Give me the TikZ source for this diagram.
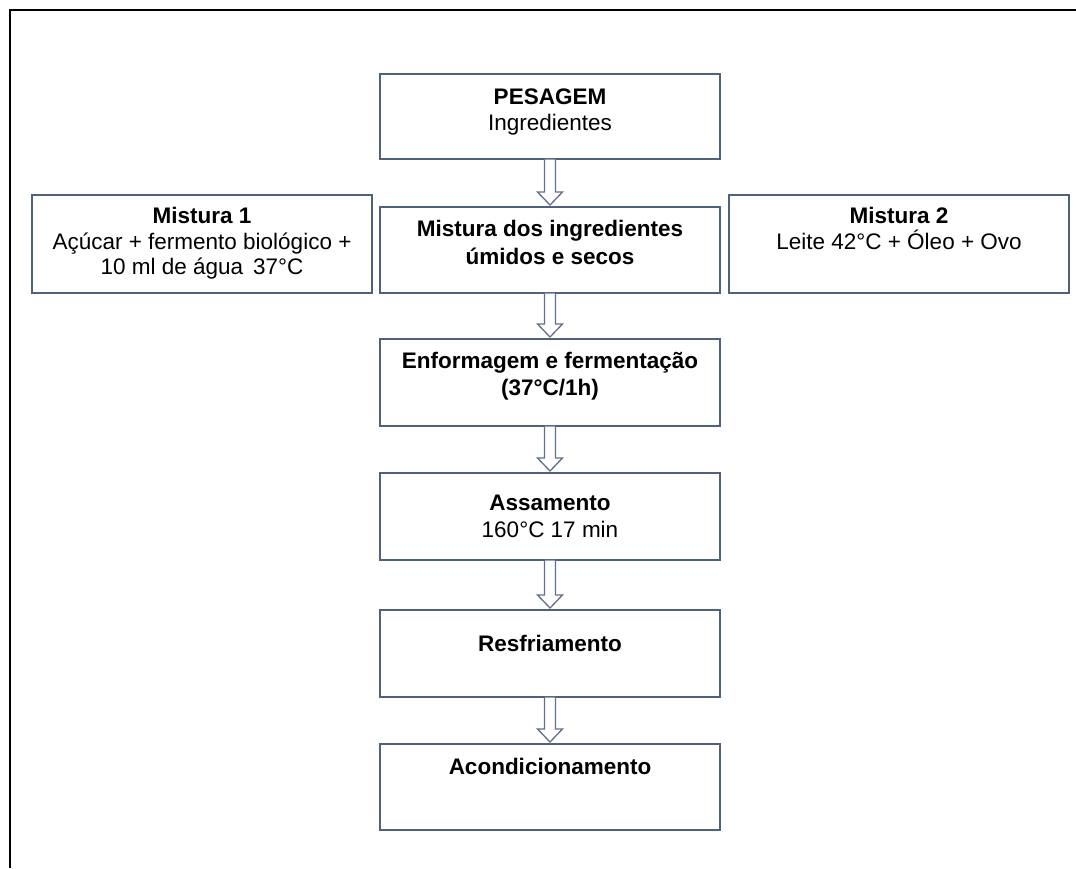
\documentclass[tikz,border=0pt]{standalone}
\usepackage{fontspec}
\setmainfont{Liberation Sans}
\usetikzlibrary{calc}
\definecolor{boxcol}{RGB}{79,98,125}
\definecolor{arrcol}{RGB}{96,112,138}
\newcommand\flowarrow[2]{%
  \path[draw=arrcol, fill=white, line width=1.3pt, line join=miter]
    let \p1=(#1.south), \p2=(#2.north) in
    (\x1-5.5pt,\y1) -- (\x1-5.5pt,\y2+15pt) -- (\x1-12.5pt,\y2+15pt) --
    (\x1,\y2+2pt) -- (\x1+12.5pt,\y2+15pt) -- (\x1+5.5pt,\y2+15pt) --
    (\x1+5.5pt,\y1) -- cycle;}
\begin{document}
\begin{tikzpicture}[x=1pt,y=-1pt,
  flowbox/.style={draw=boxcol, line width=1.4pt, minimum width=340pt, inner sep=0pt, outer sep=0pt},
  flowtxt/.style={anchor=north, inner sep=0pt, align=center, font=\fontsize{22.5}{26}\selectfont},
]
\useasboundingbox (0,0) rectangle (1076,868);
\draw[line width=2pt] (9.5,868) -- (9.5,9.5) -- (1076,9.5);

\node[flowbox, minimum height=85pt] (pes) at (550,116.5) {};
\node[flowbox, minimum height=98pt] (m1)  at (202,244) {};
\node[flowbox, minimum height=86pt] (mix) at (550,250) {};
\node[flowbox, minimum height=98pt] (m2)  at (899,244) {};
\node[flowbox, minimum height=87pt] (enf) at (550,382.5) {};
\node[flowbox, minimum height=87pt] (ass) at (550,516.5) {};
\node[flowbox, minimum height=87pt] (res) at (550,653.5) {};
\node[flowbox, minimum height=86pt] (aco) at (550,787) {};

\node[flowtxt] (tpes) at (550,88.5) {\textbf{PESAGEM}\\Ingredientes};
\node[flowtxt] (tm1) at (202,206.5) {\textbf{Mistura 1}\\Açúcar + fermento biológico +\\[-1pt]10 ml de água\, 37°C};
\node[flowtxt] (tmix) at (550,219.5) {\textbf{Mistura dos ingredientes}\\[2pt]\textbf{úmidos e secos}};
\node[flowtxt] (tm2) at (899,206.5) {\textbf{Mistura 2}\\Leite 42°C + Óleo + Ovo};
\node[flowtxt] (tenf) at (550,351.5) {\textbf{Enformagem e fermentação}\\[1pt]\textbf{(37°C/1h)}};
\node[flowtxt] (tass) at (550,494.5) {\textbf{Assamento}\\[1pt]160°C 17 min};
\node[flowtxt] (tres) at (550,634.5) {\textbf{Resfriamento}};
\node[flowtxt] (taco) at (550,757.5) {\textbf{Acondicionamento}};

\flowarrow{pes}{mix}
\flowarrow{mix}{enf}
\flowarrow{enf}{ass}
\flowarrow{ass}{res}
\flowarrow{res}{aco}
\end{tikzpicture}
\end{document}
